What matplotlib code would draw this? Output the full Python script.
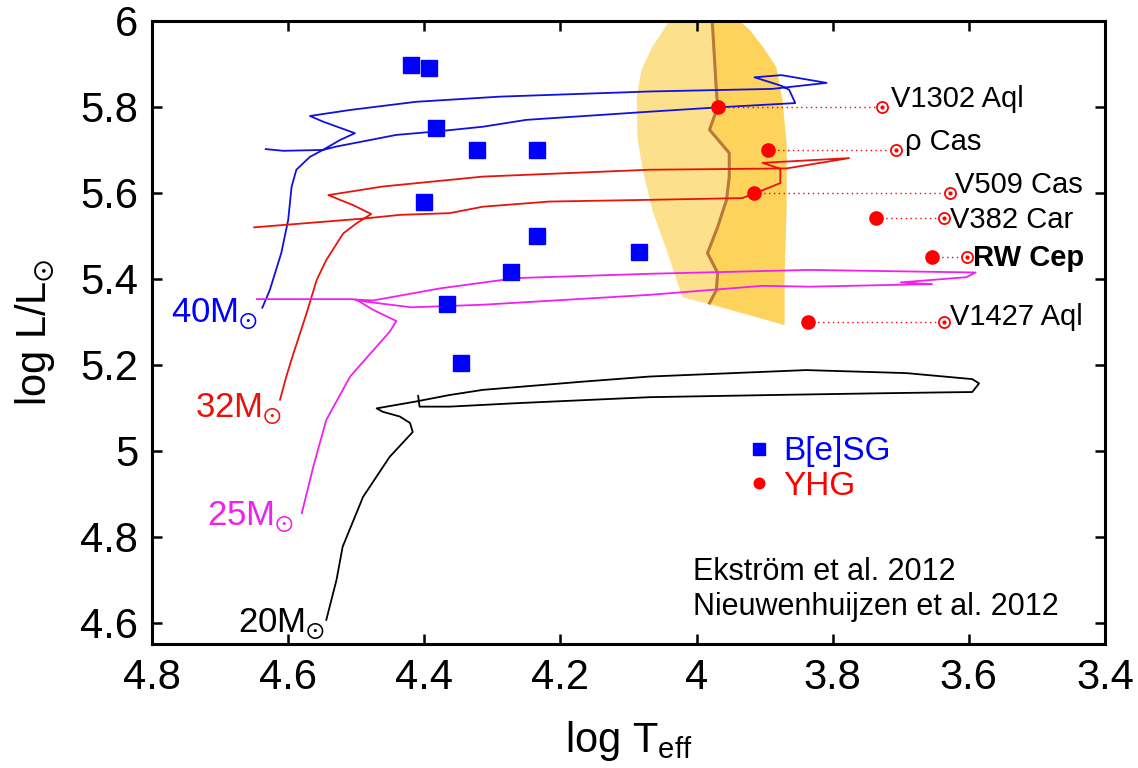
import numpy as np
import matplotlib.pyplot as plt
from matplotlib import font_manager

# --- B[e] supergiants
bsg_logt = [4.419, 4.393, 4.383, 4.322, 4.234, 4.401, 4.234, 4.272, 4.084, 4.366, 4.346]
bsg_logl = [5.898, 5.891, 5.751, 5.700, 5.699, 5.580, 5.500, 5.415, 5.463, 5.342, 5.205]

# --- yellow hypergiants: observed position and the linked open marker
yhg_names = ['V1302 Aql', 'ρ Cas', 'V509 Cas', 'V382 Car', 'RW Cep', 'V1427 Aql']
yhg_logt = [3.968, 3.895, 3.915, 3.736, 3.654, 3.836]
yhg_logl = [5.799, 5.700, 5.599, 5.542, 5.452, 5.300]
yhg_ref_logt = [3.727, 3.707, 3.627, 3.636, 3.602, 3.636]

# --- evolutionary tracks (Ekstrom et al. 2012)
t40_logt = [4.638, 4.627, 4.610, 4.600, 4.595, 4.588, 4.568, 4.549, 4.524, 4.502, 4.549, 4.568,
            4.509, 4.412, 4.289, 4.069, 3.889, 3.809, 3.875, 3.915, 3.875, 3.864, 3.855, 3.969,
            4.069, 4.250, 4.314, 4.382, 4.441, 4.529, 4.549, 4.607, 4.633]
t40_logl = [5.333, 5.374, 5.461, 5.537, 5.614, 5.654, 5.684, 5.700, 5.723, 5.739, 5.766, 5.779,
            5.793, 5.812, 5.824, 5.836, 5.842, 5.856, 5.874, 5.869, 5.849, 5.840, 5.809, 5.799,
            5.789, 5.770, 5.754, 5.743, 5.735, 5.708, 5.700, 5.698, 5.702]

t32_logt = [4.612, 4.602, 4.593, 4.573, 4.558, 4.544, 4.519, 4.499, 4.478, 4.505, 4.524, 4.541,
            4.461, 4.314, 4.069, 3.868, 3.776, 3.903, 3.877, 3.877, 3.908, 3.933, 4.069, 4.216,
            4.314, 4.363, 4.436, 4.485, 4.650]
t32_logl = [5.119, 5.177, 5.223, 5.320, 5.398, 5.444, 5.506, 5.530, 5.551, 5.572, 5.584, 5.595,
            5.615, 5.638, 5.654, 5.657, 5.681, 5.670, 5.656, 5.623, 5.603, 5.588, 5.584, 5.580,
            5.568, 5.553, 5.549, 5.541, 5.520]

t25_logt = [4.580, 4.563, 4.544, 4.509, 4.470, 4.451, 4.441, 4.475, 4.495, 4.501, 4.475, 4.377,
            4.265, 4.069, 3.834, 3.590, 3.604, 3.700, 3.654, 3.834, 3.903, 4.069, 4.314, 4.419,
            4.485, 4.505, 4.646]
t25_logl = [4.855, 4.964, 5.072, 5.173, 5.243, 5.277, 5.302, 5.328, 5.347, 5.352, 5.350, 5.378,
            5.402, 5.412, 5.421, 5.415, 5.404, 5.392, 5.388, 5.382, 5.384, 5.363, 5.340, 5.334,
            5.347, 5.353, 5.353]

t20_logt = [4.544, 4.529, 4.520, 4.490, 4.451, 4.417, 4.421, 4.436, 4.461, 4.470, 4.412, 4.363,
            4.314, 4.168, 4.069, 3.839, 3.692, 3.595, 3.585, 3.595, 3.644, 3.732, 3.890, 4.069,
            4.265, 4.363, 4.407, 4.409]
t20_logl = [4.607, 4.700, 4.777, 4.893, 4.986, 5.044, 5.065, 5.080, 5.091, 5.099, 5.115, 5.130,
            5.142, 5.161, 5.173, 5.188, 5.181, 5.167, 5.157, 5.137, 5.136, 5.134, 5.130, 5.125,
            5.111, 5.103, 5.103, 5.128]

tracks = [(t40_logt, t40_logl, '#1010e0'), (t32_logt, t32_logl, '#e8140c'),
          (t25_logt, t25_logl, '#f020f0'), (t20_logt, t20_logl, 'black')]

mass_labels = ['40M$\\!_\\odot$', '32M$\\!_\\odot$', '25M$\\!_\\odot$', '20M$\\!_\\odot$']
mass_colors = ['#0000ff', '#e8140c', '#f020f0', 'black']
mass_logt = [4.772, 4.737, 4.719, 4.674]
mass_logl = [5.298, 5.079, 4.828, 4.579]

# --- yellow void (Nieuwenhuijzen et al. 2012)
void_left_t = [3.937, 4.040, 4.065, 4.081, 4.088, 4.087, 4.079, 4.065, 4.044, 4.021]
void_left_l = [6.000, 6.000, 5.940, 5.886, 5.823, 5.730, 5.653, 5.560, 5.467, 5.358]
void_right_t = [3.871, 3.871, 3.868, 3.868, 3.874, 3.883, 3.903, 3.922, 3.937]
void_right_l = [5.293, 5.405, 5.560, 5.716, 5.816, 5.893, 5.940, 5.979, 6.000]
divider_t = [3.977, 3.971, 3.969, 3.981, 3.952, 3.952, 3.956, 3.969, 3.984, 3.969, 3.971, 3.981]
divider_l = [6.000, 5.840, 5.800, 5.747, 5.693, 5.637, 5.584, 5.521, 5.460, 5.414, 5.374, 5.344]

plt.rcParams['font.family'] = ['Liberation Sans', 'DejaVu Sans']
plt.rcParams['mathtext.default'] = 'regular'
names = {f.name for f in font_manager.fontManager.ttflist}
narrow = 'Liberation Sans Narrow' if 'Liberation Sans Narrow' in names else 'Liberation Sans'

fig = plt.figure(figsize=(11.38, 7.68), dpi=100)
ax = fig.add_axes([0.1336, 0.1615, 0.8374, 0.8112])

ax.fill(void_left_t + void_right_t, void_left_l + void_right_l, color='#fde08b', lw=0, zorder=1)
ax.fill(divider_t + void_right_t, divider_l + void_right_l, color='#fdd35c', lw=0, zorder=1)
ax.plot(divider_t, divider_l, color='#b8793a', lw=2.2, zorder=2)

for lt, ll, c in tracks:
    ax.plot(lt, ll, color=c, lw=1.3, zorder=3)

for lab, c, xt, yl in zip(mass_labels, mass_colors, mass_logt, mass_logl):
    ax.text(xt, yl, lab, color=c, fontsize=25, ha='left', va='baseline')

ax.plot(bsg_logt, bsg_logl, 's', color='#0000ff', ms=11, label='B[e]SG', zorder=5)

for i, name in enumerate(yhg_names):
    ax.plot([yhg_logt[i], yhg_ref_logt[i]], [yhg_logl[i], yhg_logl[i]], color='red',
            lw=1, ls=(0, (1, 2.5)), zorder=4)
    ax.plot(yhg_ref_logt[i], yhg_logl[i], 'o', mfc='white', mec='red', mew=1.3, ms=8, zorder=5)
    ax.plot(yhg_ref_logt[i], yhg_logl[i], 'o', color='red', ms=2, zorder=6)
ax.plot(yhg_logt, yhg_logl, 'o', color='red', ms=9.5, label='YHG', zorder=6)

label_off = [(9, 0), (9, 0), (5, 0), (6, -2), (6, -1), (6, -3)]
label_va = ['baseline', 'baseline', 'baseline', 'center', 'center', 'baseline']
for i, name in enumerate(yhg_names):
    bold = name == 'RW Cep'
    ax.annotate(name, (yhg_ref_logt[i], yhg_logl[i]), xytext=label_off[i],
                textcoords='offset pixels', fontsize=21, va=label_va[i], ha='left',
                fontweight='bold' if bold else 'normal', zorder=7)

leg = ax.legend(loc='center left', bbox_to_anchor=(0.626, 0.281), frameon=False,
                fontsize=24, handlelength=0.6, handletextpad=0.45, borderpad=0,
                borderaxespad=0, labelspacing=0.1, markerscale=0.8)
for txt, c in zip(leg.get_texts(), ['#0000ff', 'red']):
    txt.set_color(c)

ax.text(0.568, 0.103, 'Ekström et al. 2012', transform=ax.transAxes, fontsize=22,
        ha='left', va='baseline')
ax.text(0.568, 0.047, 'Nieuwenhuijzen et al. 2012', transform=ax.transAxes, fontsize=22,
        ha='left', va='baseline')

ax.set_xlim(4.8, 3.4)
ax.set_ylim(4.551, 6.0)
ax.set_xticks(np.arange(4.8, 3.39, -0.2))
ax.set_yticks(np.arange(4.6, 6.01, 0.2))
ax.set_xticklabels(['4.8', '4.6', '4.4', '4.2', '4', '3.8', '3.6', '3.4'])
ax.set_yticklabels(['4.6', '4.8', '5', '5.2', '5.4', '5.6', '5.8', '6'])
ax.tick_params(direction='in', length=7, width=1.8, top=True, right=True,
               labelsize=30, pad=10)
for lbl in ax.get_xticklabels() + ax.get_yticklabels():
    lbl.set_family(narrow)
for s in ax.spines.values():
    s.set_linewidth(2.2)

ax.set_xlabel('log T$_{eff}$', fontsize=30, family=narrow)
ax.set_ylabel('log L/L$\\!_\\odot$', fontsize=30, family=narrow)
ax.xaxis.set_label_coords(0.5, -0.155)
ax.yaxis.set_label_coords(-0.123, 0.5)
ax.xaxis.label.set_va('center')
ax.yaxis.label.set_va('center')

fig.savefig('out.png', dpi=100)
